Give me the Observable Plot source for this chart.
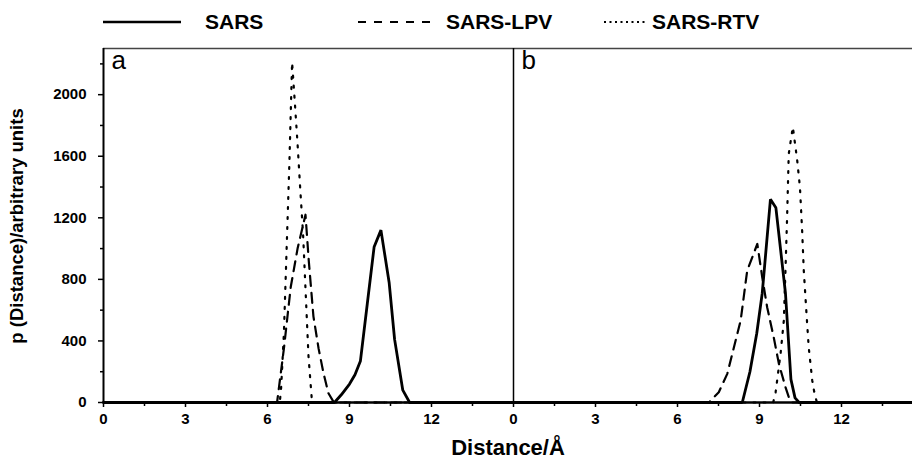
<!DOCTYPE html>
<html><head><meta charset="utf-8">
<script src="https://cdn.jsdelivr.net/npm/d3@7"></script>
<script src="https://cdn.jsdelivr.net/npm/@observablehq/plot@0.6"></script>
<style>
html,body{margin:0;padding:0;background:#fff;overflow:hidden;width:912px;height:468px;}
#wrap{position:relative;width:912px;height:468px;overflow:hidden;font-family:"Liberation Sans",Arial,sans-serif;}
#chart{position:absolute;left:0;top:0;width:923px;}
.leg{position:absolute;top:10px;font-weight:bold;font-size:21px;line-height:24px;color:#000;white-space:nowrap;}
.sw{position:absolute;top:20px;}
.xt{position:absolute;left:0;width:1016px;text-align:center;top:435px;font-weight:bold;font-size:22px;line-height:26px;}
.yt{position:absolute;left:17px;top:226px;transform:translate(-50%,-50%) rotate(-90deg);font-weight:bold;font-size:18.5px;white-space:nowrap;}
</style></head><body>
<div id="wrap">
  <div id="chart"></div>
  <svg class="sw" style="left:103px" width="78" height="4"><line x1="0" y1="2" x2="78" y2="2" stroke="#000" stroke-width="2.5"/></svg>
  <div class="leg" style="left:205px">SARS</div>
  <svg class="sw" style="left:358px" width="80" height="4"><line x1="0" y1="2" x2="80" y2="2" stroke="#000" stroke-width="2" stroke-dasharray="8,8"/></svg>
  <div class="leg" style="left:446px">SARS-LPV</div>
  <svg class="sw" style="left:604px" width="42" height="4"><line x1="0" y1="2" x2="42" y2="2" stroke="#000" stroke-width="2" stroke-dasharray="2,3.5"/></svg>
  <div class="leg" style="left:652px">SARS-RTV</div>
  <div class="xt">Distance/Å</div>
  <div class="yt">p (Distance)/arbitrary units</div>
</div>
<script>
const panels = ["a", "b"];
const seriesNames = ["SARS", "SARS-LPV", "SARS-RTV"];

// Panel a
const aSARS_x = [0, 8.45, 8.7, 9.0, 9.2, 9.4, 9.65, 9.9, 10.15, 10.45, 10.65, 10.95, 11.2, 15];
const aSARS_y = [0, 0, 50, 120, 180, 270, 640, 1010, 1120, 780, 410, 80, 0, 0];
const aLPV_x = [0, 6.35, 6.6, 6.85, 7.1, 7.39, 7.51, 7.68, 7.87, 8.05, 8.23, 8.43, 15];
const aLPV_y = [0, 0, 350, 750, 1000, 1220, 920, 560, 350, 190, 60, 0, 0];
const aRTV_x = [0, 6.45, 6.5, 6.6, 6.7, 6.8, 6.9, 7.0, 7.1, 7.2, 7.3, 7.4, 7.5, 7.63, 15];
const aRTV_y = [0, 0, 100, 450, 1000, 1550, 2210, 1950, 1680, 1380, 1100, 700, 300, 0, 0];

// Panel b
const bSARS_x = [0, 8.37, 8.65, 8.9, 9.1, 9.4, 9.6, 9.95, 10.15, 10.3, 10.45, 15];
const bSARS_y = [0, 0, 200, 450, 710, 1320, 1265, 710, 150, 30, 0, 0];
const bLPV_x = [0, 7.15, 7.51, 7.82, 8.31, 8.55, 8.92, 9.1, 9.28, 9.52, 9.71, 9.95, 10.1, 10.2, 15];
const bLPV_y = [0, 0, 67, 186, 532, 857, 1030, 814, 619, 424, 251, 100, 20, 0, 0];
const bRTV_x = [0, 9.5, 9.59, 9.77, 9.89, 9.95, 10.01, 10.07, 10.22, 10.38, 10.48, 10.56, 10.62, 10.72, 10.8, 10.93, 11.0, 11.1, 15];
const bRTV_y = [0, 0, 67, 316, 532, 857, 1204, 1615, 1790, 1572, 1398, 1117, 857, 576, 359, 143, 71, 0, 0];

const xMajor = [0, 3, 6, 9, 12];
const xMinor = [1.5, 4.5, 7.5, 10.5, 13.5];
const yMajor = [0, 400, 800, 1200, 1600, 2000];
const yMinor = [200, 600, 1000, 1400, 1800, 2200];

function rows(panel, series, xs, ys) {
  return xs.map((x, i) => ({panel, series, x, y: ys[i]}));
}
const data = [
  ...rows("a", "SARS", aSARS_x, aSARS_y),
  ...rows("a", "SARS-LPV", aLPV_x, aLPV_y),
  ...rows("a", "SARS-RTV", aRTV_x, aRTV_y),
  ...rows("b", "SARS", bSARS_x, bSARS_y),
  ...rows("b", "SARS-LPV", bLPV_x, bLPV_y),
  ...rows("b", "SARS-RTV", bRTV_x, bRTV_y)
];
const sel = s => data.filter(d => d.series === s);

const chart = Plot.plot({
  width: 923, height: 468,
  marginLeft: 103, marginRight: 0, marginTop: 48, marginBottom: 66,
  style: {fontFamily: "'Liberation Sans', Arial, sans-serif", fontSize: "15px", fontWeight: "bold", color: "#000", background: "transparent", maxWidth: "none"},
  fx: {domain: panels, padding: 0, axis: null, label: null},
  x: {domain: [0, 15], label: null},
  y: {domain: [0, 2300], label: null},
  marks: [
    Plot.ruleY([2300], {stroke: "#444", strokeWidth: 1.5}),
    Plot.line(sel("SARS-RTV"), {x: "x", y: "y", fx: "panel", stroke: "#000", strokeWidth: 2.2, strokeDasharray: "2,8"}),
    Plot.line(sel("SARS-LPV"), {x: "x", y: "y", fx: "panel", stroke: "#000", strokeWidth: 2.2, strokeDasharray: "10,7"}),
    Plot.line(sel("SARS"), {x: "x", y: "y", fx: "panel", stroke: "#000", strokeWidth: 2.8, strokeLinejoin: "miter"}),
    Plot.ruleY([0], {stroke: "#000", strokeWidth: 2.5}),
    Plot.ruleX([{panel: "a", x: 0}], {x: "x", fx: "panel", stroke: "#000", strokeWidth: 2}),
    Plot.ruleX([{panel: "b", x: 0}], {x: "x", fx: "panel", stroke: "#000", strokeWidth: 1.5}),
    Plot.axisX({ticks: xMajor, tickSize: 5, tickPadding: 6, fontSize: 15, fontWeight: "bold", tickFormat: d => String(d), strokeWidth: 1.5}),
    Plot.axisX({ticks: xMinor, tickSize: 4, tickFormat: () => "", strokeWidth: 1.5}),
    Plot.axisY({ticks: yMajor, tickSize: 5, tickPadding: 12, fontSize: 15, fontWeight: "bold", tickFormat: d => String(d), strokeWidth: 1.5}),
    Plot.axisY({ticks: yMinor, tickSize: 3, tickFormat: () => "", strokeWidth: 1.5}),
    Plot.text(panels, {fx: d => d, text: d => d, frameAnchor: "top-left", textAnchor: "start", lineAnchor: "top", dx: 8, dy: 2, fontSize: 26, fontWeight: "normal"})
  ]
});
document.getElementById("chart").appendChild(chart);
</script>
</body></html>
